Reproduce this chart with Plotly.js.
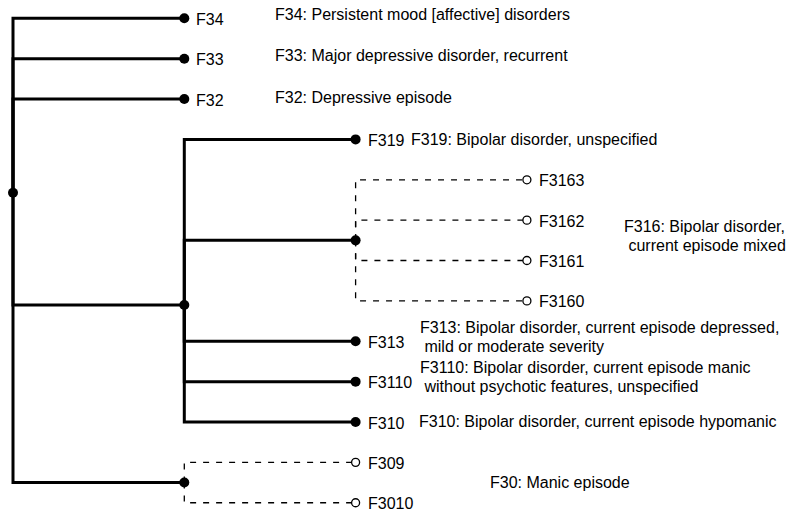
<!DOCTYPE html>
<html>
<head>
<meta charset="utf-8">
<script src="https://cdn.plot.ly/plotly-3.0.1.min.js"></script>
<style>
  html, body { margin: 0; padding: 0; background: #fff; }
  #chart { width: 787px; height: 514px; }
</style>
</head>
<body>
<div id="chart"></div>
<script>
// ---- DATA ----
const nodeIds   = ['root', 'F34', 'F33', 'F32', 'F31', 'F319', 'F316', 'F3163', 'F3162', 'F3161', 'F3160', 'F313', 'F3110', 'F310', 'F30', 'F309', 'F3010'];
const parentIds = ['',     'root','root','root','root','F31',  'F31',  'F316',  'F316',  'F316',  'F316',  'F31',  'F31',   'F31',  'root','F30',  'F30'];
const observed  = [true,   true,  true,  true,  true,  true,   true,   false,   false,   false,   false,   true,   true,    true,   true,  false,  false];

const descNodes = ['F34', 'F33', 'F32', 'F319', 'F316', 'F313', 'F3110', 'F310', 'F30'];
const descTexts = [
  'F34: Persistent mood [affective] disorders',
  'F33: Major depressive disorder, recurrent',
  'F32: Depressive episode',
  'F319: Bipolar disorder, unspecified',
  'F316: Bipolar disorder,\n current episode mixed',
  'F313: Bipolar disorder, current episode depressed,\n mild or moderate severity',
  'F3110: Bipolar disorder, current episode manic\n without psychotic features, unspecified',
  'F310: Bipolar disorder, current episode hypomanic',
  'F30: Manic episode'
];

// ---- STYLE (pixel offsets of description labels relative to their node) ----
const descDX = {F34: 91, F33: 91, F32: 91, F319: 55, F316: 268, F313: 64, F3110: 64, F310: 63, F30: 306};
const descDY = {F34: -3.5, F33: -3, F32: -2, F319: 0, F316: -4, F313: -4.5, F3110: -4.5, F310: -1, F30: 0};
const FONT = {family: 'Liberation Sans, Arial, Helvetica, sans-serif', size: 16, color: '#000'};

// ---- TREE LAYOUT (depth -> x, leaf order -> y) ----
const children = {};
nodeIds.forEach(id => children[id] = []);
nodeIds.forEach((id, i) => { if (parentIds[i]) children[parentIds[i]].push(id); });
const isObs = {};
nodeIds.forEach((id, i) => isObs[id] = observed[i]);

const depth = {}, ypos = {};
let leafCount = 0;
function visit(id, d) {
  depth[id] = d;
  const ch = children[id];
  if (!ch.length) { ypos[id] = leafCount++; return; }
  ch.forEach(c => visit(c, d + 1));
  ypos[id] = ch.reduce((s, c) => s + ypos[c], 0) / ch.length;
}
visit(nodeIds[0], 0);

// edges
const solidX = [], solidY = [], dashX = [], dashY = [];
nodeIds.forEach((id, i) => {
  const p = parentIds[i];
  if (!p) return;
  const X = isObs[id] ? solidX : dashX, Y = isObs[id] ? solidY : dashY;
  X.push(depth[p], depth[p], depth[id], null);
  Y.push(ypos[p], ypos[id], ypos[id], null);
});

const traces = [
  {x: solidX, y: solidY, mode: 'lines', line: {color: '#000', width: 3}, hoverinfo: 'skip'},
  {x: dashX, y: dashY, mode: 'lines', line: {color: '#000', width: 1.3, dash: '6px,7px'}, hoverinfo: 'skip'},
  {
    x: nodeIds.filter(id => isObs[id]).map(id => depth[id]),
    y: nodeIds.filter(id => isObs[id]).map(id => ypos[id]),
    mode: 'markers', marker: {symbol: 'circle', size: 10, color: '#000', line: {width: 0}}, hoverinfo: 'skip'
  },
  {
    x: nodeIds.filter(id => !isObs[id]).map(id => depth[id]),
    y: nodeIds.filter(id => !isObs[id]).map(id => ypos[id]),
    mode: 'markers', marker: {symbol: 'circle', size: 8, color: '#fff', line: {width: 1.3, color: '#000'}}, hoverinfo: 'skip'
  }
];

const annotations = [];
// leaf code labels
nodeIds.forEach(id => {
  if (children[id].length) return;
  annotations.push({
    x: depth[id], y: ypos[id], xref: 'x', yref: 'y', text: id, showarrow: false,
    xanchor: 'left', yanchor: 'middle', xshift: 10, yshift: -1, font: FONT
  });
});
// descriptions
descNodes.forEach((id, k) => {
  const lines = descTexts[k].split('\n');
  const n = lines.length, gap = 18.8;
  lines.forEach((ln, j) => {
    const dy = (j - (n - 1) / 2) * gap + descDY[id];
    annotations.push({
      x: depth[id], y: ypos[id], xref: 'x', yref: 'y',
      text: ln.replace(/^ /, '\u00a0'), showarrow: false,
      xanchor: 'left', yanchor: 'middle', align: 'left',
      xshift: descDX[id] - 2, yshift: -dy, font: FONT
    });
  });
});

// axis ranges mapping depth / leaf index to pixels
const XPX0 = 13, XSTEP = 171.3, YPX0 = 18.3, YSTEP = 40.37, W = 787, H = 514;
const layout = {
  width: W, height: H,
  margin: {l: 0, r: 0, t: 0, b: 0, pad: 0},
  paper_bgcolor: '#fff', plot_bgcolor: '#fff',
  showlegend: false,
  xaxis: {visible: false, range: [-XPX0 / XSTEP, (W - XPX0) / XSTEP], fixedrange: true},
  yaxis: {visible: false, range: [(H - YPX0) / YSTEP, -YPX0 / YSTEP], fixedrange: true},
  annotations: annotations,
  font: FONT,
  hovermode: false
};

Plotly.newPlot('chart', traces, layout, {displayModeBar: false, staticPlot: true});
</script>
</body>
</html>
